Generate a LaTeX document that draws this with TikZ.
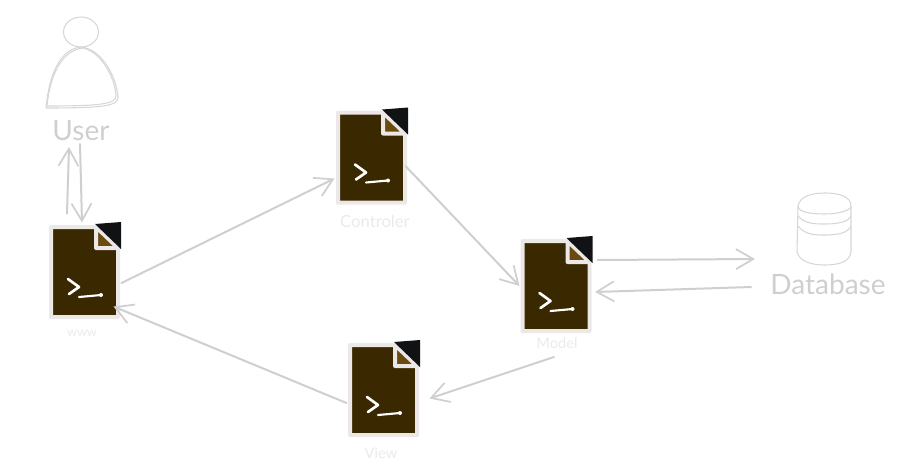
\documentclass[tikz,border=0pt]{standalone}
\usepackage{fontspec}
\setmainfont{Lato}
\usetikzlibrary{arrows.meta}

\definecolor{flowgray}{HTML}{CFCFCF}
\definecolor{sketchgray}{HTML}{D6D6D6}
\definecolor{faintgray}{HTML}{EAEAEA}
\definecolor{framegray}{HTML}{ECE8E8}
\definecolor{filebrown}{HTML}{3A2800}
\definecolor{foldbrown}{HTML}{6B4A10}
\definecolor{cornerblack}{HTML}{111214}

\tikzset{
	every picture/.style={line width=0.75pt},
	flow/.style={draw=flowgray,line width=1.5pt,line cap=round,-{Straight Barb[length=13pt,width=15pt,line width=1.3pt]}},
	sketch/.style={draw=sketchgray,line width=0.8pt},
	bigtext/.style={text=flowgray,font=\fontsize{21}{24}\selectfont,inner sep=0pt},
	smalltext/.style={text=faintgray,font=\fontsize{11}{13}\selectfont,inner sep=0pt},
	filebox/.style={minimum width=52.5pt,minimum height=70.5pt,inner sep=0pt},
	termfile/.pic={
		\begin{scope}[yscale=-1]
		\draw [draw=framegray,fill=filebrown,line width=3pt,line join=round] (-33,-45) -- (12,-45) -- (34,-23) -- (34,45) -- (-33,45) -- cycle ;
		\draw [draw=framegray,fill=foldbrown,line width=3pt,line join=round] (12,-45) -- (12,-24) -- (34,-24) -- cycle ;
		\fill [cornerblack] (11,-48) -- (37,-50) -- (37,-23) -- cycle ;
		\draw [white,line width=2pt,line cap=round,line join=round] (-16,7) -- (-5,15) -- (-15,22) ;
		\draw [white,line width=1.6pt,line cap=round] (-5,25) -- (17,23) ;
		\fill [white] (17,23) circle (2) ;
		\end{scope}
	}
}

\begin{document}
\begin{tikzpicture}[x=0.75pt,y=0.75pt,yscale=-1,xscale=1]
	\useasboundingbox (0,0) rectangle (910,472);

	%Shape: User
	\draw [sketch] (81,32) ellipse (17.5 and 15);
	\draw [sketch] (46,108) .. controls (49,75) and (60,49) .. (81,47) .. controls (101,49) and (116,75) .. (118,97) .. controls (118,106) and (104,108) .. (46,108) ;
	\draw [sketch] (47,106) .. controls (50,75) and (62,50) .. (83,48) .. controls (101,52) and (115,77) .. (116,96) .. controls (116,104) and (100,106) .. (47,106) ;

	%Shape: Database
	\draw [sketch] (798,206) .. controls (800,196) and (812,193) .. (825,193) .. controls (840,193) and (851,197) .. (851,206) .. controls (851,210) and (840,214) .. (825,214) .. controls (810,214) and (798,212) .. (798,206) ;
	\draw [sketch] (798,206) -- (797,252) .. controls (800,262) and (812,265) .. (825,265) .. controls (840,265) and (850,261) .. (851,252) -- (851,206) ;
	\draw [sketch] (798,216) .. controls (805,224) and (815,224) .. (825,224) .. controls (838,224) and (848,222) .. (851,216) ;
	\draw [sketch] (798,226) .. controls (805,235) and (815,235) .. (825,235) .. controls (838,235) and (848,233) .. (851,226) ;

	%Shape: Files
	\pic at (84,272) {termfile};
	\pic at (371,157.5) {termfile};
	\pic at (555.5,286) {termfile};
	\pic at (383,390) {termfile};
	\node [filebox] (www) at (84,272) {};
	\node [filebox] (controler) at (371,157.5) {};
	\node [filebox] (model) at (555.5,286) {};
	\node [filebox] (view) at (383,390) {};

	% Text Node
	\node [bigtext] (userlabel) at (81,131) {User};
	% Text Node
	\node [bigtext] (dblabel) at (828,284) {Database};
	% Text Node
	\node [smalltext,font=\fontsize{9.5}{11}\selectfont] (wwwlabel) at (82,333) {www};
	% Text Node
	\node [smalltext,font=\fontsize{12.5}{14}\selectfont] (controlerlabel) at (375,221) {Controler};
	% Text Node
	\node [smalltext] (modellabel) at (557,343) {Model};
	% Text Node
	\node [smalltext] (viewlabel) at (381,453) {View};

	%Straight Lines
	\draw [flow] ([shift={(-17,-11)}]www.north) -- ([shift={(-12,16)}]userlabel.center) ;
	\draw [flow] ([shift={(-1,13)}]userlabel.center) -- ([shift={(-2,-2)}]www.north) ;
	\draw [flow] ([shift={(2,11)}]www.east) -- ([shift={(-1,21)}]controler.west) ;
	\draw [flow] ([shift={(-1,8.5)}]controler.east) -- ([shift={(-0.5,0)}]model.west) ;
	\draw [flow] ([shift={(6.5,-26)}]model.east) -- ([shift={(-73,-25)}]dblabel.center) ;
	\draw [flow] ([shift={(-77,3)}]dblabel.center) -- ([shift={(4,6)}]model.east) ;
	\draw [flow] ([shift={(-3,14)}]modellabel.center) -- ([shift={(11,8.5)}]view.east) ;
	\draw [flow] ([shift={(-1,13)}]view.west) -- ([shift={(-6,34.5)}]www.east) ;
\end{tikzpicture}
\end{document}
